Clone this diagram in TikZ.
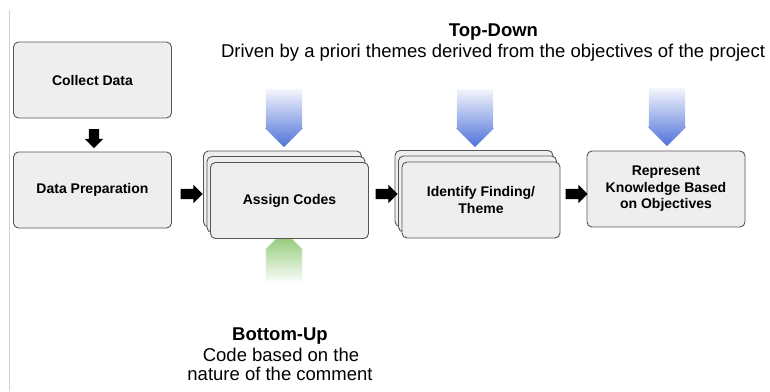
\documentclass[tikz,border=0pt]{standalone}
\usepackage{fontspec}
\setmainfont{Liberation Sans}
\usetikzlibrary{shapes.arrows}
\definecolor{boxline}{HTML}{555555}
\definecolor{boxfill}{HTML}{EEEEEE}
\definecolor{tdblue}{HTML}{4E72D8}
\definecolor{tdlight}{HTML}{F4F6FD}
\definecolor{bugreen}{HTML}{86C46A}
\definecolor{edgegray}{HTML}{D0D0D0}
\begin{document}
\begin{tikzpicture}[x=1pt,y=-1pt,
  box/.style={draw=boxline, fill=boxfill, rounded corners=5pt, line width=0.9pt,
    minimum width=158pt, minimum height=76pt, inner sep=0pt, align=center,
    font=\bfseries\fontsize{14}{16.5}\selectfont},
  blockarrow/.style={single arrow, fill=black, draw=none, inner xsep=0pt, inner ysep=5pt,
    minimum height=22pt, minimum width=0pt, single arrow head extend=4pt,
    single arrow tip angle=90},
  toparrow/.style={single arrow, draw=none, inner sep=0pt, shape border rotate=270,
    minimum height=58pt, minimum width=38pt, single arrow head extend=0.01pt,
    single arrow tip angle=90, top color=tdlight, bottom color=tdblue},
  botarrow/.style={single arrow, draw=none, inner sep=0pt, shape border rotate=90,
    minimum height=53pt, minimum width=38pt, single arrow head extend=0.01pt,
    single arrow tip angle=90, top color=bugreen, bottom color=white},
  headtext/.style={anchor=base, font=\bfseries\fontsize{18.5}{20}\selectfont},
  desctext/.style={anchor=base, font=\fontsize{18.5}{20}\selectfont}
]
\useasboundingbox (0,0) rectangle (770,391);
\draw[edgegray, line width=0.8pt] (9,10) -- (9,391);

% top-down / bottom-up arrows (behind boxes)
\node[toparrow] (tdA) at (284,109) {};
\node[toparrow] (tdB) at (475,109) {};
\node[toparrow] (tdC) at (667,108) {};
\node[botarrow] (buA) at (284,266.5) {};

% boxes
\node[box] (cd) at (92.5,80) {Collect Data};
\node[box] (dp) at (92.5,190) {Data Preparation};

\node[box] (ac3) at (282.5,189) {};
\node[box] (ac2) at (286,194.5) {};
\node[box] (ac) at (289.5,200.5) {Assign Codes};

\node[box] (if3) at (474,188.5) {};
\node[box] (if2) at (477.5,194) {};
\node[box] (if) at (481,200) {Identify Finding/\\Theme};

\node[box] (rk) at (666,189) {Represent\\Knowledge Based\\on Objectives};

% block arrows between steps
\node[blockarrow, shape border rotate=270, inner xsep=5pt, inner ysep=0pt,
      minimum height=19pt] (a0) at (94,136) {};
\node[blockarrow] (a1) at (189,194) {};
\node[blockarrow] (a2) at (384,194) {};
\node[blockarrow] (a3) at (574,194) {};

% texts
\node[headtext] (td) at (493.5,36) {Top-Down};
\node[desctext] (tdd) at (493,57) {Driven by a priori themes derived from the objectives of the project};
\node[headtext] (bu) at (280,340) {Bottom-Up};
\node[desctext] (bud1) at (281,361) {Code based on the};
\node[desctext] (bud2) at (280,380) {nature of the comment};
\end{tikzpicture}
\end{document}
